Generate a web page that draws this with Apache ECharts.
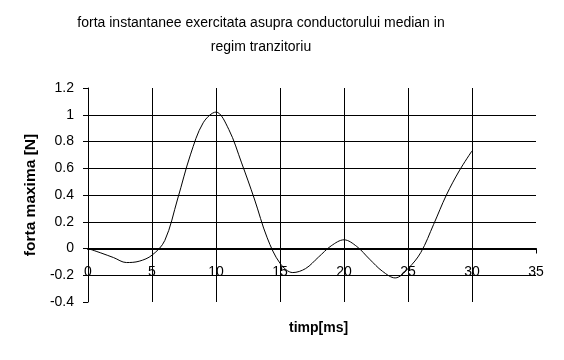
<!DOCTYPE html>
<html>
<head>
<meta charset="utf-8">
<script src="https://cdn.jsdelivr.net/npm/echarts@6/dist/echarts.min.js"></script>
<style>html,body{margin:0;padding:0;background:#fff}#c{width:564px;height:360px}</style>
</head>
<body>
<div id="c"></div>
<script>
var timeMs = [0,1,2,3,4,5,6,7,8,9,10,11,12,13,14,15,16,17,18,19,20,21,22,23,24,25,26,27,28,29,30];
var forceN = [0,-0.033,-0.068,-0.105,-0.095,-0.05,0.06,0.37,0.7,0.94,1.02,0.89,0.64,0.37,0.08,-0.11,-0.18,-0.15,-0.065,0.02,0.065,0.015,-0.08,-0.17,-0.22,-0.15,-0.03,0.18,0.4,0.58,0.73];
var titleText = 'forta instantanee exercitata asupra conductorului median in\nregim tranzitoriu';
var xName = 'timp[ms]';
var yName = 'forta maxima [N]';

var pts = timeMs.map(function(t, i){ return [t, forceN[i]]; });
var font = '"Liberation Sans", Arial, sans-serif';
var fs = 14;
var chart = echarts.init(document.getElementById('c'));
chart.setOption({
  animation: false,
  backgroundColor: '#fff',
  title: {
    text: titleText,
    left: 261, top: 11, padding: 0, textAlign: 'center',
    textStyle: {fontFamily: font, fontSize: fs, fontWeight: 'normal', color: '#000', lineHeight: 24}
  },
  grid: {left: 88, right: 28, top: 88, bottom: 58, outerBoundsMode: 'none', containLabel: false},
  xAxis: {
    type: 'value', min: 0, max: 35, interval: 5,
    axisLine: {show: true, onZero: false, lineStyle: {color: '#000', width: 2}},
    axisTick: {show: true, length: 5, lineStyle: {color: '#000', width: 1}},
    axisLabel: {color: '#000', fontFamily: font, fontSize: fs, margin: 17},
    splitLine: {show: true, showMinLine: false, showMaxLine: false, lineStyle: {color: '#000', width: 1}}
  },
  yAxis: {
    type: 'value', min: -0.4, max: 1.2, interval: 0.2,
    name: yName, nameLocation: 'middle', nameGap: 49,
    nameTextStyle: {fontFamily: font, fontSize: 15.5, fontWeight: 'bold', color: '#000'},
    axisLine: {show: true, onZero: false, lineStyle: {color: '#000', width: 1}},
    axisTick: {show: true, length: 5, lineStyle: {color: '#000'}},
    axisLabel: {color: '#000', fontFamily: font, fontSize: fs, margin: 14,
      formatter: function(v){ return String(Math.round(v*10)/10); }},
    splitLine: {show: true, showMinLine: false, showMaxLine: false, lineStyle: {color: '#000', width: 1}}
  },
  graphic: [{
    type: 'text', left: 289, top: 321,
    style: {text: xName, fontFamily: font, fontSize: fs, fontWeight: 'bold', fill: '#000', textAlign: 'center'}
  }],
  series: [{
    type: 'line', data: pts, smooth: 0.35, showSymbol: false,
    lineStyle: {color: '#000', width: 1}, z: 5
  }]
});
// move the x axis (line, ticks, labels) up to y = 0
var zeroY = chart.convertToPixel({yAxisIndex: 0}, 0);
var bottomY = chart.convertToPixel({yAxisIndex: 0}, -0.4);
chart.setOption({xAxis: {offset: zeroY - bottomY}});
</script>
</body>
</html>
